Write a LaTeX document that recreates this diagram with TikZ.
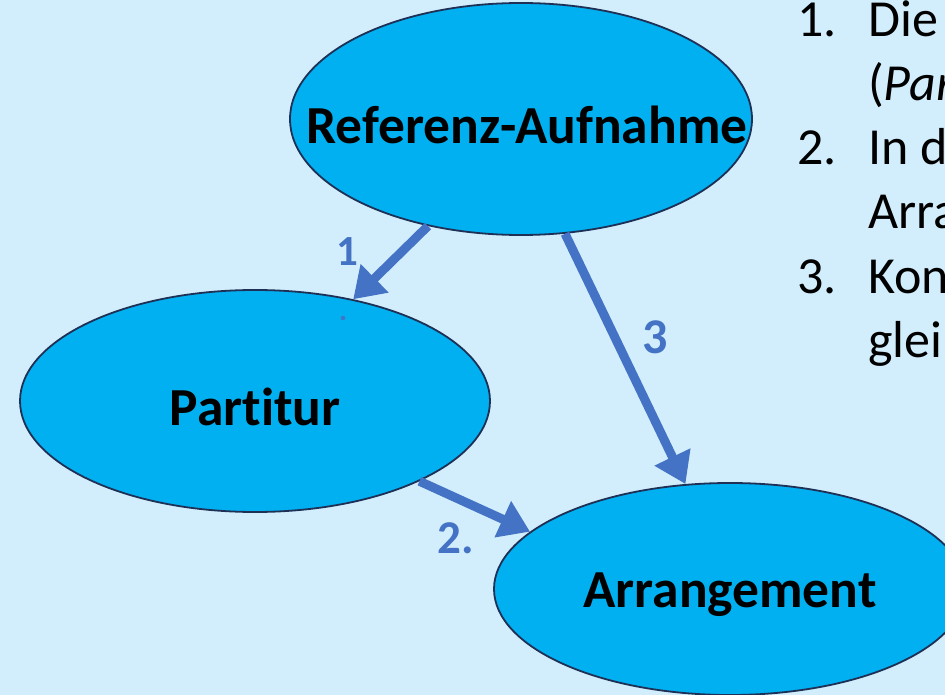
\documentclass[tikz,border=0pt]{standalone}
\usepackage{fontspec}
\setmainfont{Carlito}[Ligatures=NoCommon]
\usetikzlibrary{shapes.geometric,arrows.meta}
\definecolor{bg}{HTML}{D2EEFC}
\definecolor{ellfill}{HTML}{00B0F0}
\definecolor{ellline}{HTML}{1F3056}
\definecolor{arrblue}{HTML}{4472C4}
\tikzset{
  ell/.style={ellipse, draw=ellline, line width=1.8pt, fill=ellfill, inner sep=0pt},
  elltext/.style={font=\fontsize{53.5}{60}\selectfont\bfseries, text=black, inner sep=0pt, yshift=-6pt},
  conn/.style={draw=arrblue, line width=9pt, -{Triangle[length=30pt,width=38pt]}},
  lab/.style={text=arrblue, font=\fontsize{46}{52}\selectfont\bfseries, inner sep=0pt},
  item/.style={anchor=base west, inner sep=0pt, font=\fontsize{52}{60}\selectfont, text=black}
}
\begin{document}
\begin{tikzpicture}[x=1pt,y=-1pt]
\useasboundingbox (0,0) rectangle (945,695);
\clip (0,0) rectangle (945,695);
\fill[bg] (0,0) rectangle (945,695);
% ellipses
\node[ell, minimum width=462pt, minimum height=232pt,
  label={[elltext, xshift=6pt]center:Referenz-Aufnahme}] (ref) at (521,119) {};
\node[ell, minimum width=470pt, minimum height=222pt,
  label={[elltext]center:Partitur}] (par) at (255,401) {};
\node[ell, minimum width=472pt, minimum height=212pt,
  label={[elltext]center:Arrangement}] (arr) at (730,589) {};
% arrows
\draw[conn] (ref.-131) -- (par.46);
\draw[conn] (par.-26) -- (arr.164);
\draw[conn] (ref.-69) -- (arr.113);
% labels
\node[lab, font=\fontsize{43}{50}\selectfont\bfseries] (l1) at (347,252) {1};
\node[lab, font=\fontsize{50}{56}\selectfont\bfseries] (l3) at (655,337) {3};
\node[lab, font=\fontsize{47}{54}\selectfont\bfseries] (l2) at (456,538) {2.};
\fill[arrblue] (343,318) circle (2.2pt);
% right text list
\node[item] (n1) at (797,37) {1.};
\node[item] (t1) at (868,37) {Die};
\node[item] (t1b) at (868,101) {(\textit{Par}};
\node[item] (n2) at (797,165) {2.};
\node[item] (t2) at (868,165) {In d};
\node[item] (t2b) at (868,229) {Arra};
\node[item] (n3) at (797,293) {3.};
\node[item] (t3) at (868,293) {Kon};
\node[item] (t3b) at (868,357) {glei};
\end{tikzpicture}
\end{document}
